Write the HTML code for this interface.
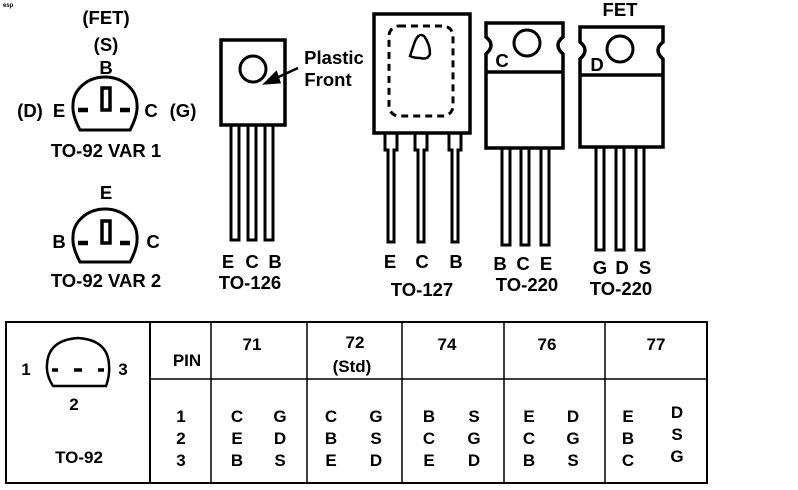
<!DOCTYPE html>
<html><head><meta charset="utf-8"><style>
html,body{margin:0;padding:0;background:#fff;}
svg{display:block;}
text{font-family:"Liberation Sans",sans-serif;font-weight:bold;fill:#000;}
.t{font-family:"Liberation Sans Narrow","Liberation Sans",sans-serif;font-size:17px;}
</style></head><body>
<svg width="798" height="490" viewBox="0 0 798 490" xmlns="http://www.w3.org/2000/svg">
<g stroke="#000" fill="none" stroke-width="3">
<!-- TO-92 VAR1 -->
<path d="M80,130 L130,130 Q138,115 137,105 A32,28 0 0 0 73,105 Q72,115 80,130 Z"/>
<rect x="102" y="88" width="8" height="22" fill="#fff" stroke-width="3.5"/>
<line x1="78" y1="110" x2="88" y2="110" stroke-width="4.5"/>
<line x1="120" y1="110" x2="130" y2="110" stroke-width="4.5"/>
<!-- TO-92 VAR2 -->
<path d="M80,262 L130,262 Q138,247 137,237 A32,28 0 0 0 73,237 Q72,247 80,262 Z"/>
<rect x="102" y="221" width="8" height="22" fill="#fff" stroke-width="3.5"/>
<line x1="78" y1="243" x2="88" y2="243" stroke-width="4.5"/>
<line x1="120" y1="243" x2="130" y2="243" stroke-width="4.5"/>
<!-- TO-126 -->
<rect x="221" y="40" width="64" height="85" stroke-width="3.5"/>
<circle cx="253" cy="69" r="13"/>
<rect x="231" y="125" width="8" height="115"/>
<rect x="248" y="125" width="8" height="115"/>
<rect x="265" y="125" width="8" height="115"/>
<line x1="298" y1="68" x2="272" y2="80" stroke-width="2.5"/>
<polygon points="266,83 276,73 279,82" fill="#000"/>
<!-- TO-127 -->
<rect x="374" y="14" width="96" height="119" stroke-width="3.5"/>
<rect x="389" y="26" width="64" height="90" rx="10" stroke-dasharray="7,5" stroke-width="3"/>
<path d="M410,56 Q412,50 414,44 Q418,32 424,36 Q430,44 430,54 Q428,60 420,58 Q414,58 410,56 Z" stroke-width="2.5"/>
<path d="M385,133 V150 H388 V242 H394 V150 H397 V133"/>
<path d="M415,133 V150 H418 V242 H424 V150 H427 V133"/>
<path d="M449,133 V150 H452 V242 H458 V150 H461 V133"/>
<!-- TO-220 -->
<path d="M486,23 H563 V37 Q553,45 563,54 V148 H486 V54 Q496,45 486,37 Z" stroke-width="3.5"/>
<line x1="486" y1="72" x2="563" y2="72" stroke-width="3.5"/>
<circle cx="527" cy="43" r="13"/>
<rect x="502" y="148" width="8" height="97"/>
<rect x="521" y="148" width="8" height="97"/>
<rect x="541" y="148" width="8" height="97"/>
<!-- FET TO-220 -->
<path d="M580,27 H663 V42 Q653,50 663,59 V147 H580 V59 Q590,50 580,42 Z" stroke-width="3.5"/>
<line x1="580" y1="75" x2="663" y2="75" stroke-width="3.5"/>
<circle cx="620" cy="49" r="13"/>
<rect x="596" y="147" width="8" height="103"/>
<rect x="616" y="147" width="8" height="103"/>
<rect x="636" y="147" width="8" height="103"/>
<!-- table -->
<rect x="6" y="322" width="701" height="161" stroke-width="2"/>
<line x1="150" y1="322" x2="150" y2="483" stroke-width="2"/>
<line x1="150" y1="379" x2="707" y2="379" stroke-width="1.5"/>
<line x1="211" y1="322" x2="211" y2="483" stroke-width="1.5"/>
<line x1="307" y1="322" x2="307" y2="483" stroke-width="1.5"/>
<line x1="402" y1="322" x2="402" y2="483" stroke-width="1.5"/>
<line x1="504" y1="322" x2="504" y2="483" stroke-width="1.5"/>
<line x1="605" y1="322" x2="605" y2="483" stroke-width="1.5"/>
<path d="M53,386 L106,386 Q110,375 109,365 Q108,340 78,338 Q48,340 47,365 Q46,375 53,386 Z" stroke-width="2.5"/>
<g stroke-width="3.5"><line x1="52" y1="370" x2="58" y2="370"/><line x1="74" y1="370" x2="82" y2="370"/><line x1="98" y1="370" x2="104" y2="370"/></g>
</g>
<text x="3" y="7" font-size="6" font-weight="normal">esp</text>
<g font-size="18.5" text-anchor="middle">
<text x="106" y="24">(FET)</text>
<text x="106" y="51">(S)</text>
<text x="106" y="74">B</text>
<text x="30" y="117">(D)</text>
<text x="59" y="117">E</text>
<text x="151" y="117">C</text>
<text x="183" y="117">(G)</text>
<text x="106" y="157">TO-92 VAR 1</text>
<text x="106" y="199">E</text>
<text x="59" y="248">B</text>
<text x="153" y="248">C</text>
<text x="106" y="287">TO-92 VAR 2</text>
<text x="228" y="268">E</text>
<text x="252" y="268">C</text>
<text x="275" y="268">B</text>
<text x="250" y="289">TO-126</text>
<text x="334" y="64">Plastic</text>
<text x="328" y="86">Front</text>
<text x="390" y="268">E</text>
<text x="422" y="268">C</text>
<text x="456" y="268">B</text>
<text x="422" y="296">TO-127</text>
<text x="502" y="67">C</text>
<text x="500" y="270">B</text>
<text x="523" y="270">C</text>
<text x="546" y="270">E</text>
<text x="527" y="291">TO-220</text>
<text x="597" y="71">D</text>
<text x="620" y="16">FET</text>
<text x="600" y="274">G</text>
<text x="622" y="274">D</text>
<text x="645" y="274">S</text>
<text x="621" y="295">TO-220</text>
</g>
<g class="t" text-anchor="middle">
<text x="26" y="375">1</text>
<text x="123" y="375">3</text>
<text x="74" y="410">2</text>
<text x="79" y="463">TO-92</text>
<text x="187" y="366">PIN</text>
<text x="252" y="350">71</text>
<text x="355" y="348">72</text>
<text x="352" y="372">(Std)</text>
<text x="447" y="350">74</text>
<text x="547" y="350">76</text>
<text x="656" y="350">77</text>
<text x="181" y="422">1</text>
<text x="181" y="444">2</text>
<text x="181" y="466">3</text>
<text x="237" y="422">C</text><text x="280" y="422">G</text>
<text x="237" y="444">E</text><text x="280" y="444">D</text>
<text x="237" y="466">B</text><text x="280" y="466">S</text>
<text x="331" y="422">C</text><text x="376" y="422">G</text>
<text x="331" y="444">B</text><text x="376" y="444">S</text>
<text x="331" y="466">E</text><text x="376" y="466">D</text>
<text x="429" y="422">B</text><text x="474" y="422">S</text>
<text x="429" y="444">C</text><text x="474" y="444">G</text>
<text x="429" y="466">E</text><text x="474" y="466">D</text>
<text x="529" y="422">E</text><text x="573" y="422">D</text>
<text x="529" y="444">C</text><text x="573" y="444">G</text>
<text x="529" y="466">B</text><text x="573" y="466">S</text>
<text x="628" y="422">E</text><text x="677" y="418">D</text>
<text x="628" y="444">B</text><text x="677" y="440">S</text>
<text x="628" y="466">C</text><text x="677" y="462">G</text>
</g>
</svg>
</body></html>
